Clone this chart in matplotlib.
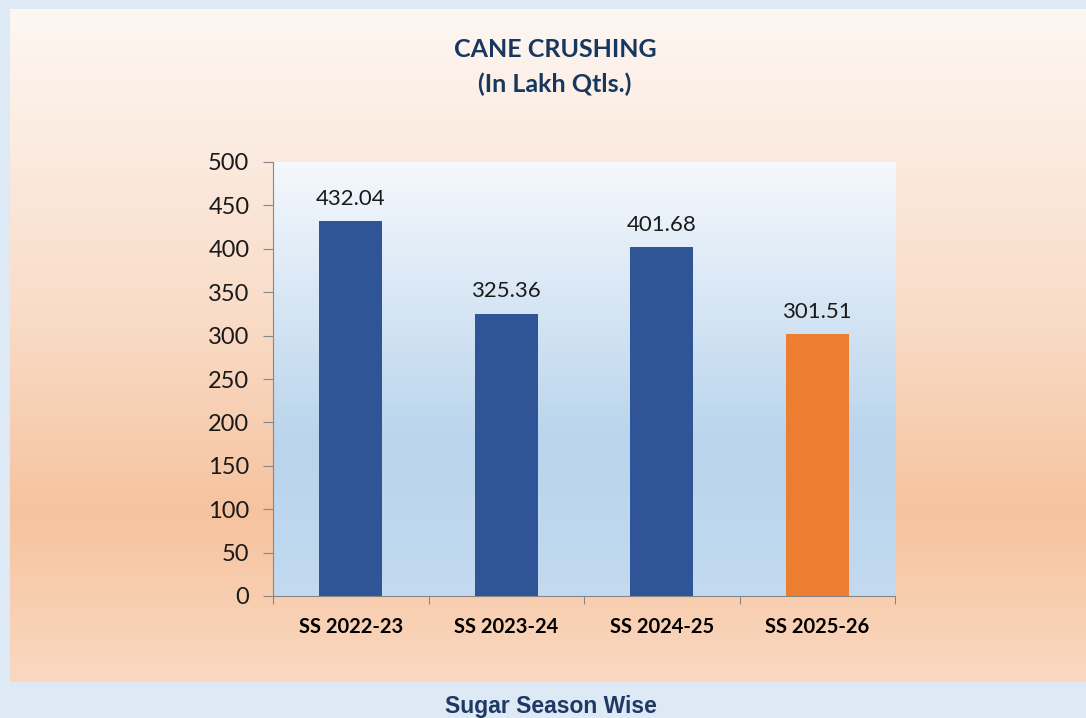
import numpy as np
import matplotlib.pyplot as plt
from matplotlib.colors import LinearSegmentedColormap

# chart data
seasons = ["SS 2022-23", "SS 2023-24", "SS 2024-25", "SS 2025-26"]
crushing = [432.04, 325.36, 401.68, 301.51]
bar_colors = ["#2F5597", "#2F5597", "#2F5597", "#ED7D31"]
y_ticks = [0, 50, 100, 150, 200, 250, 300, 350, 400, 450, 500]

plt.rcParams['font.family'] = ['Lato', 'DejaVu Sans']

fig = plt.figure(figsize=(10.86, 7.18), dpi=100)
fig.patch.set_facecolor("#DDE9F5")

# peach panel behind the chart
W, H = 1086, 718
panel = fig.add_axes([10 / W, (H - 682) / H, 1 - 10 / W, (682 - 9) / H])
panel_cmap = LinearSegmentedColormap.from_list(
    "panel", [(0.0, "#FAD8C0"), (0.25, "#F6C39F"), (0.55, "#F9DCC8"), (1.0, "#FDF7F3")])
grad = np.linspace(0, 1, 256).reshape(-1, 1)
panel.imshow(grad, cmap=panel_cmap, aspect="auto", origin="lower", extent=[0, 1, 0, 1])
panel.set_axis_off()

ax = fig.add_axes([273 / W, (H - 596) / H, (895 - 273) / W, (596 - 162) / H])
plot_cmap = LinearSegmentedColormap.from_list(
    "plotbg", [(0.0, "#C3DAF0"), (0.35, "#B9D4EC"), (1.0, "#F5F8FD")])
ax.imshow(grad, cmap=plot_cmap, aspect="auto", origin="lower",
          extent=[0, 1, 0, 1], transform=ax.transAxes, zorder=0)

x = np.arange(len(seasons))
bars = ax.bar(x, crushing, width=0.405, color=bar_colors, zorder=2)
for xi, v in zip(x, crushing):
    ax.text(xi, v + 14, f"{v:.2f}", ha="center", va="bottom", fontsize=16, color="#1a1a1a")

ax.set_xlim(-0.5, len(seasons) - 0.5)
ax.set_ylim(0, 500)
ax.set_yticks(y_ticks)
ax.tick_params(axis="y", labelsize=17, length=7, pad=10, color="#868686", labelcolor="#1a1a1a")
ax.set_xticks(np.arange(-0.5, len(seasons)))
ax.set_xticklabels([])
ax.set_xticks(x, minor=True)
ax.set_xticklabels(seasons, minor=True, fontsize=14.5, fontweight="bold")
ax.tick_params(axis="x", which="major", length=6, color="#868686")
ax.tick_params(axis="x", which="minor", length=0, pad=15)
for side in ["top", "right"]:
    ax.spines[side].set_visible(False)
for side in ["left", "bottom"]:
    ax.spines[side].set_color("#868686")

fig.text(555 / W, 1 - 67 / H, "CANE CRUSHING\n(In Lakh Qtls.)", ha="center", va="center",
         fontsize=18, fontweight="bold", color="#17375E", linespacing=1.6)
fig.text(551 / W, 1 - 706 / H, "Sugar Season Wise", ha="center", va="center",
         fontsize=16.5, fontweight="bold", color="#1F3864", family=["Liberation Sans", "DejaVu Sans"])

fig.savefig("out.png", dpi=100)
